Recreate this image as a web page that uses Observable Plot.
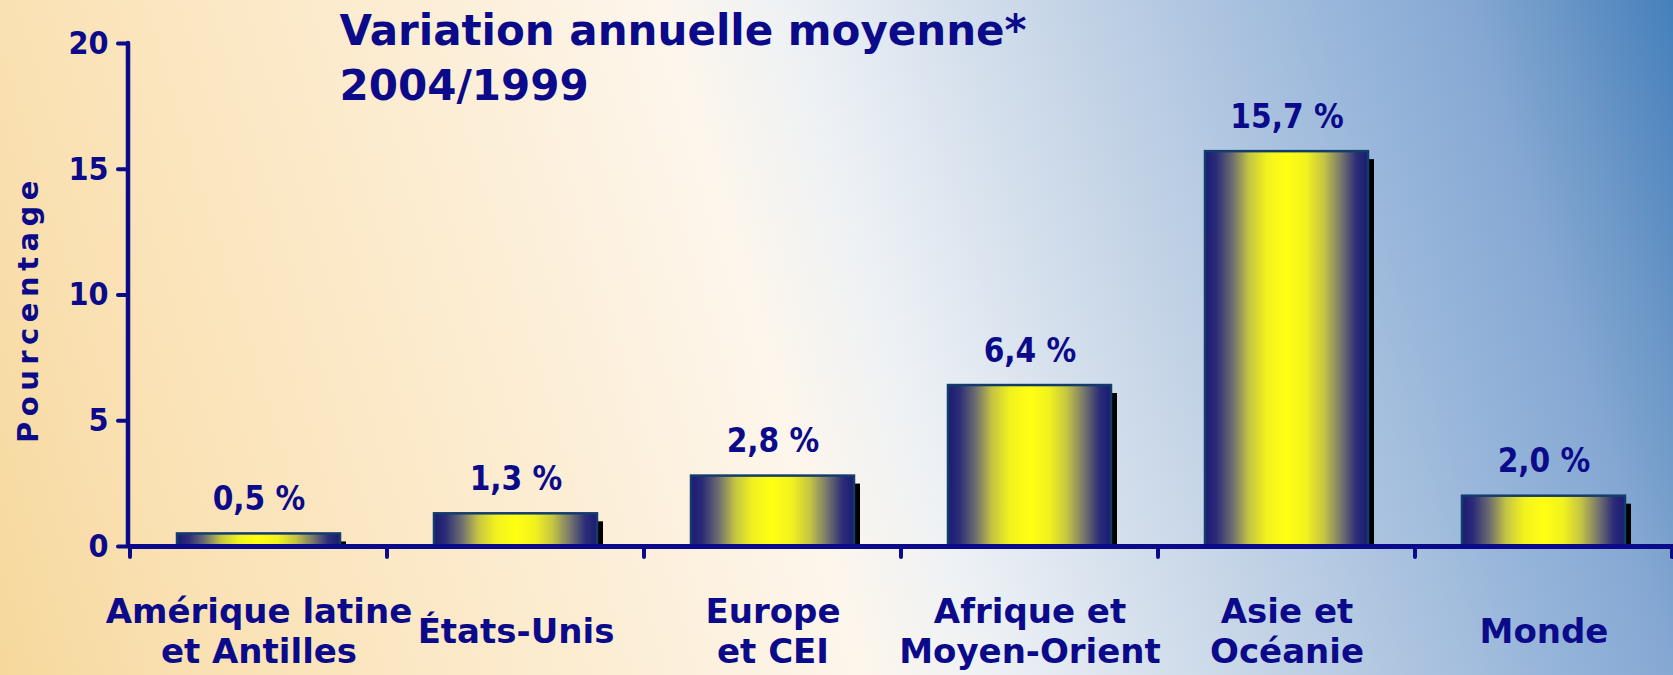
<!DOCTYPE html>
<html>
<head>
<meta charset="utf-8">
<script src="https://cdn.jsdelivr.net/npm/d3@7"></script>
<script src="https://cdn.jsdelivr.net/npm/@observablehq/plot@0.6"></script>
<style>
  html, body { margin: 0; padding: 0; }
  #chart {
    width: 1673px; height: 675px; overflow: hidden; position: relative;
    background: linear-gradient(73deg, #f6d89c 0%, #fae1b3 11%, #fcecd0 30%, #fdf6ec 46%, #edf1f5 53%, #c3d3e6 68%, #98b6da 82%, #85a8d3 89%, #6a96c6 94%, #4580bc 100%);
  }
</style>
</head>
<body>
<div id="chart"></div>
<script>
const categories = ["Amérique latine\net Antilles", "États-Unis", "Europe\net CEI", "Afrique et\nMoyen-Orient", "Asie et\nOcéanie", "Monde"];
const values = [0.5, 1.3, 2.8, 6.4, 15.7, 2.0];
const valueLabels = ["0,5 %", "1,3 %", "2,8 %", "6,4 %", "15,7 %", "2,0 %"];
const yTicks = [0, 5, 10, 15, 20];
const titleText = "Variation annuelle moyenne*\n2004/1999";
const yLabel = "Pourcentage";

const navy = "#0a0a8a";
const data = categories.map((c, i) => ({cat: c, value: values[i], label: valueLabels[i]}));

const svgNS = "http://www.w3.org/2000/svg";
function el(name, attrs) {
  const e = document.createElementNS(svgNS, name);
  for (const k in attrs) e.setAttribute(k, attrs[k]);
  return e;
}

// defs (bar gradient) + vertical axis line
function defsAndYAxis(index, scales, values, dims) {
  const g = el("g", {});
  const defs = el("defs", {});
  const grad = el("linearGradient", {id: "barGrad", x1: "0", y1: "0", x2: "1", y2: "0"});
  const stops = [
    [0, "#1a1a74"], [0.07, "#2c2c78"], [0.17, "#6e6e70"], [0.27, "#c4c444"],
    [0.38, "#f2f21e"], [0.5, "#ffff12"], [0.62, "#f2f21e"], [0.73, "#c4c444"],
    [0.83, "#7a7a6c"], [0.93, "#2c2c78"], [1, "#1a1a74"]
  ];
  for (const [o, c] of stops) grad.appendChild(el("stop", {offset: o, "stop-color": c}));
  defs.appendChild(grad);
  g.appendChild(defs);
  const x0 = dims.marginLeft;
  g.appendChild(el("line", {
    x1: x0, x2: x0, y1: scales.y(yTicks[0]), y2: scales.y(yTicks[yTicks.length - 1]),
    stroke: navy, "stroke-width": 4.5, "stroke-linecap": "round"
  }));
  return g;
}

// x tick marks at band boundaries
function xBoundaryTicks(index, scales, values, dims) {
  const g = el("g", {});
  const x = scales.x;
  const bw = x.bandwidth ? x.bandwidth() : (dims.width - dims.marginLeft - dims.marginRight) / categories.length;
  const pos = categories.map(c => x(c));
  pos.push(x(categories[categories.length - 1]) + bw);
  const y0 = scales.y(0);
  for (const p of pos) {
    g.appendChild(el("line", {x1: p, x2: p, y1: y0, y2: y0 + 11, stroke: navy, "stroke-width": 4, "stroke-linecap": "round"}));
  }
  return g;
}

const condensed = "'DejaVu Sans Condensed', 'DejaVu Sans', sans-serif";
const wide = "'DejaVu Sans', Verdana, sans-serif";

const plot = Plot.plot({
  width: 1673,
  height: 675,
  marginLeft: 128,
  marginRight: 0,
  marginTop: 43,
  marginBottom: 129,
  style: {background: "none", color: navy, overflow: "visible"},
  x: {domain: categories, padding: 0, axis: null},
  y: {domain: [0, 20], axis: null},
  marks: [
    defsAndYAxis,
    Plot.axisY({ticks: yTicks, label: null, tickSize: 10, tickPadding: 10, stroke: navy, strokeWidth: 4, strokeLinecap: "round",
      fontSize: 32, fontWeight: "bold", fontFamily: condensed, fill: navy}),
    Plot.barY(data, {x: "cat", y: "value", fill: "black", dx: 6, insetTop: 8, insetLeft: 47, insetRight: 47}),
    Plot.barY(data, {x: "cat", y: "value", fill: "url(#barGrad)", stroke: "#123d6b", strokeWidth: 2.5, insetLeft: 47, insetRight: 47}),
    Plot.ruleY([0], {stroke: navy, strokeWidth: 5}),
    xBoundaryTicks,
    Plot.text(data, {x: "cat", y: "value", text: "label", lineAnchor: "bottom", dy: -24,
      fontSize: 33, fontWeight: "bold", fontFamily: condensed, fill: navy}),
    Plot.text(data, {x: "cat", text: "cat", frameAnchor: "bottom", dy: 84, lineAnchor: "middle", lineHeight: 1.18,
      fontSize: 34, fontWeight: "bold", fontFamily: wide, fill: navy}),
    Plot.text([titleText], {frameAnchor: "top-left", dx: 211, dy: -38, textAnchor: "start", lineAnchor: "top", lineHeight: 1.31,
      fontSize: 42, fontWeight: "bold", fontFamily: wide, fill: navy}),
    Plot.text([yLabel], {frameAnchor: "left", dx: -100, dy: 14, rotate: -90, textAnchor: "middle", lineAnchor: "middle",
      fontSize: 29, fontWeight: "bold", fontFamily: wide, fill: navy})
  ]
});

d3.select(plot).selectAll("text").filter(function() { return this.textContent === yLabel; })
  .style("letter-spacing", "5.5px");

document.getElementById("chart").appendChild(plot);
</script>
</body>
</html>
